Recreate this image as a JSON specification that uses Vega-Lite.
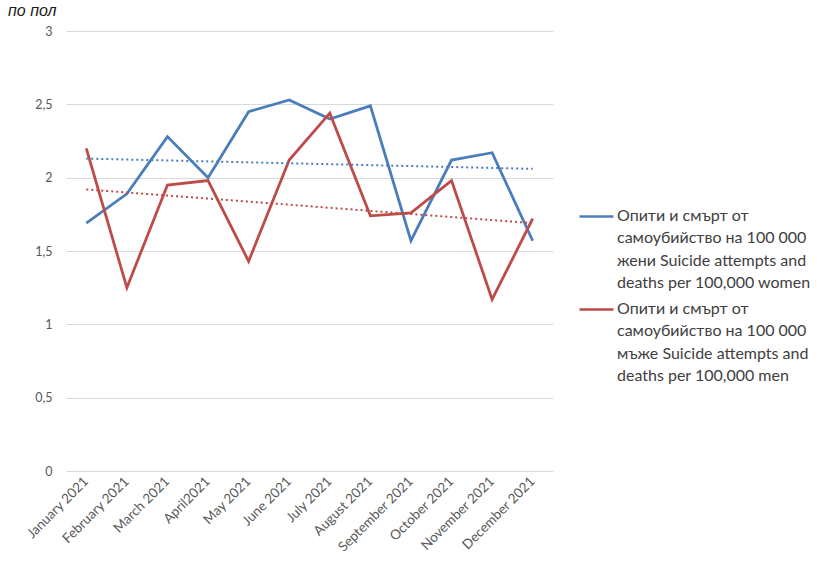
{
  "$schema": "https://vega.github.io/schema/vega-lite/v6.json",
  "width": 487,
  "height": 440,
  "autosize": "none",
  "padding": {"left": 66, "top": 31, "right": 270, "bottom": 103},
  "background": "white",
  "title": {
    "text": "по пол",
    "anchor": "start",
    "orient": "top",
    "frame": "group",
    "dx": -58,
    "offset": 6,
    "font": "Liberation Sans",
    "fontSize": 16,
    "fontStyle": "italic",
    "fontWeight": "normal",
    "color": "#1a1a1a"
  },
  "data": {
    "values": [
      {"month": "January 2021", "series": "women", "value": 1.69, "trend": 2.13},
      {"month": "February 2021", "series": "women", "value": 1.89},
      {"month": "March 2021", "series": "women", "value": 2.28},
      {"month": "April2021", "series": "women", "value": 2.0},
      {"month": "May 2021", "series": "women", "value": 2.45},
      {"month": "June 2021", "series": "women", "value": 2.53},
      {"month": "July 2021", "series": "women", "value": 2.4},
      {"month": "August 2021", "series": "women", "value": 2.49},
      {"month": "September 2021", "series": "women", "value": 1.57},
      {"month": "October 2021", "series": "women", "value": 2.12},
      {"month": "November 2021", "series": "women", "value": 2.17},
      {"month": "December 2021", "series": "women", "value": 1.57, "trend": 2.06},
      {"month": "January 2021", "series": "men", "value": 2.2, "trend": 1.92},
      {"month": "February 2021", "series": "men", "value": 1.25},
      {"month": "March 2021", "series": "men", "value": 1.95},
      {"month": "April2021", "series": "men", "value": 1.98},
      {"month": "May 2021", "series": "men", "value": 1.43},
      {"month": "June 2021", "series": "men", "value": 2.12},
      {"month": "July 2021", "series": "men", "value": 2.44},
      {"month": "August 2021", "series": "men", "value": 1.74},
      {"month": "September 2021", "series": "men", "value": 1.76},
      {"month": "October 2021", "series": "men", "value": 1.98},
      {"month": "November 2021", "series": "men", "value": 1.17},
      {"month": "December 2021", "series": "men", "value": 1.72, "trend": 1.69}
    ]
  },
  "encoding": {
    "x": {
      "field": "month",
      "type": "nominal",
      "sort": ["January 2021", "February 2021", "March 2021", "April2021", "May 2021", "June 2021", "July 2021", "August 2021", "September 2021", "October 2021", "November 2021", "December 2021"],
      "scale": {"type": "band", "paddingInner": 0, "paddingOuter": 0},
      "axis": {
        "title": null,
        "labelAngle": -45,
        "labelAlign": "right",
        "labelBaseline": "middle",
        "labelPadding": 8,
        "labelFont": "Lato",
        "labelFontSize": 13.5,
        "labelColor": "#595959",
        "ticks": false,
        "domain": false,
        "grid": false
      }
    },
    "color": {
      "field": "series",
      "type": "nominal",
      "scale": {"domain": ["women", "men"], "range": ["#4a7ebb", "#be4b48"]},
      "legend": {
        "title": null,
        "orient": "none",
        "legendX": 512,
        "legendY": 167,
        "symbolType": "stroke",
        "symbolSize": 1156,
        "symbolStrokeWidth": 2.5,
        "symbolOffset": 0,
        "labelOffset": 2,
        "rowPadding": -2,
        "labelFont": "Lato",
        "labelFontSize": 16,
        "labelColor": "#404040",
        "labelLimit": 300,
        "labelBaseline": "top",
        "labelExpr": "datum.label == 'women' ? ['Опити и смърт от', 'самоубийство на 100 000', 'жени Suicide attempts and', 'deaths per 100,000 women'] : ['Опити и смърт от', 'самоубийство на 100 000', 'мъже Suicide attempts and', 'deaths per 100,000 men']",
        "encode": {"labels": {"update": {"lineHeight": {"value": 22.5}, "dy": {"value": -9}}}}
      }
    }
  },
  "layer": [
    {
      "mark": {"type": "line", "strokeWidth": 2.8},
      "encoding": {
        "y": {
          "field": "value",
          "type": "quantitative",
          "scale": {"domain": [0, 3], "nice": false},
          "axis": {
            "title": null,
            "values": [0, 0.5, 1, 1.5, 2, 2.5, 3],
            "labelExpr": "replace(format(datum.value, '~g'), '.', ',')",
            "labelFont": "Lato",
            "labelFontSize": 12.5,
            "labelColor": "#595959",
            "labelPadding": 14,
            "ticks": false,
            "domain": false,
            "gridColor": "#d9d9d9",
            "gridWidth": 1
          }
        }
      }
    },
    {
      "transform": [{"filter": "isValid(datum.trend)"}],
      "mark": {"type": "line", "strokeWidth": 2, "strokeDash": [2, 3]},
      "encoding": {
        "y": {"field": "trend", "type": "quantitative"}
      }
    }
  ],
  "config": {
    "view": {"stroke": null}
  }
}
